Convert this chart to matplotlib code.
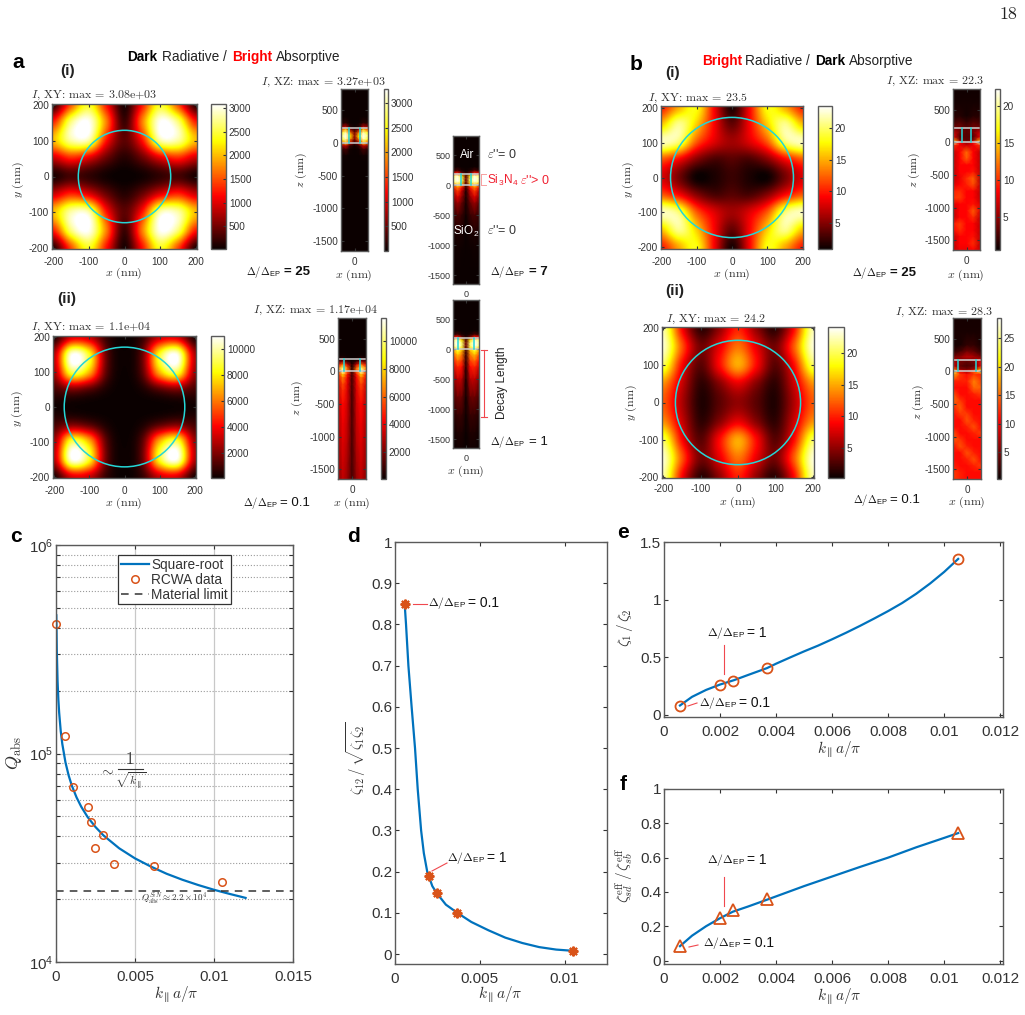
import numpy as np
import matplotlib
matplotlib.use("Agg")
import matplotlib.pyplot as plt
from matplotlib.lines import Line2D
from matplotlib.patches import Circle

W, H = 1025, 1015

plt.rcParams['font.family'] = ['Liberation Sans', 'DejaVu Sans']
plt.rcParams['mathtext.fontset'] = 'cm'
plt.rcParams['axes.unicode_minus'] = False

AXIS_GREY = '#5a5a5a'
TEXT_GREY = '#333333'
CYAN = '#25d6d6'
SLAB = '#cfcfcf'
BLUE = '#0072BD'
ORANGE = '#D95319'
LEADER = '#f0484e'

# In-plane intensity, one quadrant: rows y = 200..0, columns x = -200..0 (nm)
xy_a1 = [[150, 1500, 2400, 1200, 100],
         [1300, 2700, 3050, 1700, 250],
         [2000, 2800, 2800, 1200, 400],
         [900, 1300, 1000, 450, 150],
         [100, 300, 200, 60, 10]]
xy_a2 = [[400, 3500, 3200, 700, 50],
         [2900, 10800, 8500, 1500, 100],
         [2600, 9000, 7000, 1300, 80],
         [1000, 1900, 1300, 300, 30],
         [150, 100, 60, 20, 5]]
xy_b1 = [[10, 15, 18, 9, 1.5],
         [16, 21, 16, 9, 4],
         [22, 20, 12, 8, 6],
         [12, 9, 5, 3, 3.5],
         [8, 4.5, 1, 1.5, 2.5]]
xy_b2 = [[22, 9, 1.5, 5, 10],
         [23, 12, 4, 8, 13],
         [20, 9, 3, 9, 15],
         [14, 7, 1.5, 4.5, 8],
         [12, 6, 1, 3, 5]]

# Cross-section intensity, half of the cell: columns x = 0, 65, 130, 200 (nm)
z_a = [820, 400, 300, 240, 200, 150, 100, 50, 0, -50, -100, -200, -300, -500,
       -800, -1100, -1400, -1650]
xz_a1 = [[0, 0, 0, 0], [0, 0, 5, 5], [5, 20, 150, 100], [30, 150, 900, 600],
         [150, 700, 2200, 1500], [500, 1800, 3000, 2500], [700, 2400, 3270, 2800],
         [500, 1800, 3000, 2500], [200, 900, 2200, 1600], [50, 200, 900, 600],
         [10, 50, 300, 150], [0, 5, 50, 20], [0, 0, 5, 0], [0, 0, 0, 0],
         [0, 0, 0, 0], [0, 0, 0, 0], [0, 0, 0, 0], [0, 0, 0, 0]]
xz_a2 = [[0, 0, 0, 0], [0, 0, 0, 0], [0, 0, 30, 10], [10, 50, 200, 80],
         [30, 150, 700, 250], [100, 800, 2500, 1300], [300, 3500, 6500, 4000],
         [500, 6000, 10000, 6500], [900, 6000, 11000, 6000], [1000, 4500, 8000, 4500],
         [1000, 4000, 6500, 4000], [1000, 3800, 5500, 3400], [1000, 3600, 5000, 3200],
         [1000, 3400, 4400, 3000], [1100, 3200, 4000, 2800], [1100, 3000, 3700, 2600],
         [1100, 2700, 3400, 2400], [1100, 2500, 3200, 2200]]
xz_delta7 = [[0, 0, 0, 0], [0, 0, 0, 0], [0, 0, 1, 0], [1, 3, 10, 5], [3, 15, 40, 30],
             [12, 70, 95, 85], [15, 85, 100, 90], [15, 80, 95, 85], [8, 55, 70, 55],
             [5, 38, 55, 35], [3, 28, 45, 25], [2, 20, 32, 18], [2, 14, 22, 12],
             [1, 7, 10, 6], [0, 2, 3, 2], [0, .5, 1, .5], [0, 0, .3, 0], [0, 0, 0, 0]]
xz_delta1 = [[0, 0, 0, 0], [0, 0, 0, 0], [0, 0, 1, 0], [1, 3, 10, 5], [3, 15, 40, 30],
             [10, 70, 95, 85], [15, 85, 100, 90], [15, 85, 100, 85], [10, 70, 85, 65],
             [8, 60, 75, 55], [7, 55, 65, 48], [6, 45, 52, 38], [5, 38, 42, 30],
             [3, 26, 28, 18], [1.5, 14, 15, 9], [1, 7, 7, 4], [.3, 3, 3, 1], [.2, 1.5, 1.5, .5]]

# Full-width cross sections: columns x = -200, -100, 0, 100, 200 (nm)
z_b = [820, 600, 400, 300, 220, 150, 80, 30, 0, -50, -150, -250, -350, -450, -550,
       -650, -750, -850, -950, -1050, -1150, -1250, -1350, -1450, -1550, -1650]
xz_b1 = [[.8, .8, .8, .8, .8], [1, 1, 1, 1, 1], [1.5, 1.5, 1, 1.5, 1.5], [2.5, 3, 2, 3, 2.5],
         [4, 4, 3, 4, 4], [7, 4, 3, 4, 7], [8, 3, 3, 3, 8], [14, 5, 3, 5, 14],
         [20, 8, 5, 8, 20], [10, 8, 7, 8, 10], [6.5, 8.5, 12, 8.5, 6.5], [6.5, 8.5, 11.5, 8.5, 6.5],
         [6.5, 8.5, 8.5, 8.5, 6.5], [6.5, 8.5, 8.5, 9, 6.5], [6.5, 8, 10, 11.5, 6.5], [7.5, 8.5, 9.5, 11, 6.5],
         [9.5, 10, 8.5, 8.5, 6.5], [10, 10.5, 8.5, 8.5, 6.5], [7.5, 8.5, 8.5, 9, 7.5], [6.5, 8.5, 8.5, 11.5, 7.5],
         [6.5, 8.5, 8.5, 10, 6.5], [9, 10.5, 8.5, 8.5, 6.5], [8.5, 10, 8.5, 8.5, 6.5], [6.5, 8.5, 8.5, 9, 6.5],
         [6.5, 8.5, 8.5, 10, 6.5], [6.5, 8, 8, 8.5, 6.5]]
xz_b2 = [[.8, .8, .8, .8, .8], [1, 1, 1, 1, 1], [1, 1, 2, 2, 1], [2, 3, 5, 4, 2],
         [5, 6, 8, 7, 5], [8, 5, 4, 5, 10], [9, 4, 3, 4, 10], [16, 6, 5, 7, 18],
         [24, 10, 7, 14, 22], [18, 13, 11, 13, 12], [12, 12, 12, 16, 13], [11, 11, 11, 15, 14.5],
         [14, 11, 11, 12, 13], [15, 13, 11, 11, 11], [12, 14.5, 11, 11, 11], [11, 13, 13, 11, 11],
         [11, 11, 14, 12, 11], [11, 11, 12, 14, 11], [14, 11, 11, 12, 13], [14, 13, 11, 11, 11],
         [11, 14, 12, 11, 11], [11, 11, 14, 12, 11], [11, 11, 12, 14, 11], [12, 11, 11, 12, 13],
         [13, 12, 11, 11, 11], [13, 12, 11, 11, 11]]

# Panel c
k_rcwa = [0.00002, 0.00059, 0.00107, 0.0020, 0.0022, 0.00246, 0.0030, 0.00368, 0.00619, 0.01048]
q_rcwa = [4.16e5, 1.216e5, 6.92e4, 5.55e4, 4.67e4, 3.51e4, 4.06e4, 2.94e4, 2.89e4, 2.43e4]
k_root = [0.00002, 0.00005, 0.0001, 0.00015, 0.0002, 0.0003, 0.0004, 0.0006, 0.0008, 0.001,
          0.0013, 0.0016, 0.002, 0.0025, 0.003, 0.004, 0.005, 0.006, 0.007, 0.008, 0.009,
          0.01, 0.011, 0.012]
q_root = [4.6e5, 3.14e5, 2.22e5, 1.81e5, 1.57e5, 1.28e5, 1.11e5, 9.06e4, 7.85e4, 7.02e4,
          6.16e4, 5.55e4, 4.96e4, 4.44e4, 4.05e4, 3.51e4, 3.14e4, 2.87e4, 2.65e4, 2.48e4,
          2.34e4, 2.22e4, 2.12e4, 2.03e4]
q_limit = 2.2e4

# Panels d, e, f share the five marked points
k_marks = [0.00057, 0.00201, 0.00246, 0.00368, 0.01049]
zeta12_marks = [0.85, 0.19, 0.148, 0.10, 0.008]
ratio_marks = [0.079, 0.262, 0.297, 0.405, 1.353]
eff_marks = [0.084, 0.247, 0.292, 0.36, 0.743]

k_d = [0.00057, 0.00065, 0.00079, 0.00098, 0.00118, 0.00134, 0.00154, 0.0017, 0.0019, 0.0022,
       0.00246, 0.003, 0.00368, 0.0045, 0.0055, 0.0065, 0.0075, 0.0085, 0.0095, 0.0105]
zeta12_line = [0.85, 0.8, 0.7, 0.6, 0.5, 0.4, 0.3, 0.245, 0.2, 0.165, 0.148, 0.12, 0.10, 0.078,
               0.058, 0.04, 0.027, 0.017, 0.011, 0.008]
k_e = [0.00057, 0.001, 0.0015, 0.002, 0.0025, 0.003, 0.00368, 0.004, 0.0045, 0.005, 0.0055, 0.006,
       0.0065, 0.007, 0.0075, 0.008, 0.0085, 0.009, 0.0095, 0.01, 0.0105]
ratio_line = [0.08, 0.155, 0.215, 0.262, 0.30, 0.345, 0.405, 0.443, 0.497, 0.55, 0.60, 0.655,
              0.712, 0.772, 0.835, 0.90, 0.97, 1.05, 1.14, 1.24, 1.353]
k_f = [0.00057, 0.001, 0.0015, 0.002, 0.00246, 0.003, 0.00368, 0.005, 0.006, 0.007, 0.008,
       0.009, 0.01, 0.0105]
eff_line = [0.084, 0.145, 0.2, 0.247, 0.285, 0.315, 0.355, 0.434, 0.49, 0.546, 0.60, 0.66,
            0.715, 0.743]

fig = plt.figure(figsize=(W / 100, H / 100), dpi=100)


def px_axes(l, t, r, b):
    return fig.add_axes([l / W, 1 - b / H, (r - l) / W, (b - t) / H])


def put(x, y, s, ha='left', size=8, color=TEXT_GREY, **kw):
    fig.text(x / W, 1 - y / H, s, ha=ha, va='center', fontsize=size, color=color, **kw)


def seg(x0, y0, x1, y1, color=LEADER, lw=0.8):
    fig.add_artist(Line2D([x0 / W, x1 / W], [1 - y0 / H, 1 - y1 / H], color=color, lw=lw,
                          transform=fig.transFigure))


def style(ax, size=7.2, length=2):
    ax.tick_params(which='both', direction='in', top=True, right=True, length=length,
                   width=0.8, color='#333333', labelsize=size, labelcolor=TEXT_GREY, pad=2)
    for s in ax.spines.values():
        s.set_color(AXIS_GREY)
        s.set_linewidth(1.0)


def add_cbar(im, box, ticks, size=7.2):
    cax = px_axes(*box)
    cb = fig.colorbar(im, cax=cax)
    cb.set_ticks(ticks)
    cb.ax.tick_params(direction='in', length=2, width=0.8, color='#333333', labelsize=size,
                      labelcolor=TEXT_GREY, pad=2)
    cb.outline.set_edgecolor(AXIS_GREY)
    cb.outline.set_linewidth(1.0)


def xy_map(box, quad, vmin, vmax, radius, cbox, ticks, xlim=204, ylim=204, xpad=5.5):
    ax = px_axes(*box)
    rows = [list(r) + list(r[-2::-1]) for r in quad]
    field = np.array(rows + rows[-2::-1], dtype=float)
    im = ax.imshow(field, cmap='hot', vmin=vmin, vmax=vmax, interpolation='catrom',
                   extent=[-225, 225, -225, 225], origin='upper', aspect='auto')
    ax.set_xlim(-xlim, xlim)
    ax.set_ylim(-ylim, ylim)
    ax.add_patch(Circle((0, 0), radius, fill=False, ec=CYAN, lw=1.1))
    ax.set_xticks([-200, -100, 0, 100, 200])
    ax.set_yticks([-200, -100, 0, 100, 200])
    style(ax)
    ax.tick_params(axis='x', pad=xpad)
    add_cbar(im, cbox, ticks)


def xz_map(box, z, field, vmin, vmax, holes, top, cbox=None, ticks=None, size=7.2):
    ax = px_axes(*box)
    field = np.array(field, dtype=float)
    if field.shape[1] == 4:
        field = np.hstack([field[:, :0:-1], field])
        x = [-200, -130, -65, 0, 65, 130, 200]
    else:
        x = [-200, -100, 0, 100, 200]
    im = ax.pcolormesh(x, z, field, shading='gouraud', cmap='hot', vmin=vmin, vmax=vmax)
    ax.set_xlim(-200, 200)
    ax.set_ylim(-1650, 820)
    for zz in (0, top):
        ax.plot([-190, 190], [zz, zz], color=SLAB, lw=1.1)
    for xx in (-holes, holes):
        ax.plot([xx, xx], [0, top], color=CYAN, lw=1.1)
    ax.set_xticks([0])
    ax.set_yticks([-1500, -1000, -500, 0, 500])
    style(ax, size=size)
    ax.tick_params(axis='x', pad=4.5)
    if cbox is not None:
        add_cbar(im, cbox, ticks)


# Panel a, upper row
xy_map((52, 104, 197, 249), xy_a1, 22, 3080, 130, (211, 104, 226, 249),
       [500, 1000, 1500, 2000, 2500, 3000])
xz_map((341, 89, 368, 251), z_a, xz_a1, 0, 3280, 75, 230, (384, 89, 388, 251),
       [500, 1000, 1500, 2000, 2500, 3000])
xz_map((453, 136, 479, 284), z_a, xz_delta7, 0, 100, 75, 180, size=6.5)

# Panel a, lower row
xy_map((53, 336, 196, 478), xy_a2, 50, 11000, 172, (211, 336, 224, 478),
       [2000, 4000, 6000, 8000, 10000])
xz_map((338, 318, 366, 479), z_a, xz_a2, 25, 11700, 117, 190, (381, 318, 386, 479),
       [2000, 4000, 6000, 8000, 10000])
xz_map((453, 300, 479, 448), z_a, xz_delta1, 0, 100, 120, 180, size=6.5)

# Panel b
xy_map((661, 106, 803, 249), xy_b1, 0.9, 23.5, 174, (818, 106, 832, 249), [5, 10, 15, 20],
       xlim=201, ylim=207)
xz_map((953, 89, 980, 250), z_b, xz_b1, 0.6, 22.3, 62, 220, (995, 89, 1000, 250), [5, 10, 15, 20])
xy_map((662, 327, 814, 478), xy_b2, 0.15, 24.2, 168, (828, 327, 844, 478), [5, 10, 15, 20], xpad=4)
xz_map((953, 318, 981, 479), z_b, xz_b2, 0.35, 28.5, 130, 180, (997, 318, 1001, 479),
       [5, 10, 15, 20, 25])

# Panel c
ax_c = px_axes(56, 545, 293, 962)
ax_c.set_yscale('log')
ax_c.grid(True, which='major', color='#c8c8c8', lw=0.9)
ax_c.grid(True, which='minor', axis='y', color='#9a9a9a', lw=0.8, ls=':')
ax_c.plot(k_root, q_root, color=BLUE, lw=1.6, label='Square-root')
ax_c.plot(k_rcwa, q_rcwa, 'o', mfc='none', mec=ORANGE, mew=1.1, ms=5.4, label='RCWA data', clip_on=False)
ax_c.axhline(q_limit, color='#333333', ls='--', lw=1.1, dashes=(5, 4), label='Material limit')
ax_c.set_xlim(0, 0.015)
ax_c.set_ylim(1e4, 1e6)
ax_c.set_xticks([0, 0.005, 0.01, 0.015], ['0', '0.005', '0.01', '0.015'])
style(ax_c, size=10.8, length=3)
ax_c.tick_params(axis='x', pad=6)
leg = ax_c.legend(loc='upper left', bbox_to_anchor=((118 - 56) / 237, 1 - 10 / 417), fontsize=9.8,
                  fancybox=False, framealpha=1, edgecolor='#333333', borderpad=0.2, labelspacing=0.07,
                  handlelength=2.05, handletextpad=0.2, borderaxespad=0)
leg.get_frame().set_linewidth(0.9)
for t in leg.get_texts():
    t.set_color(TEXT_GREY)

# Panel d
ax_d = px_axes(395, 542, 607, 964)
ax_d.plot(k_d, zeta12_line, color=BLUE, lw=1.6)
ax_d.plot(k_marks, zeta12_marks, ls='none', marker=(8, 2, 0), color=ORANGE, mew=1.5, ms=7)
ax_d.set_xlim(0, 0.0125)
ax_d.set_ylim(-0.024, 1)
ax_d.set_xticks([0, 0.005, 0.01], ['0', '0.005', '0.01'])
ax_d.set_yticks(np.arange(11) / 10, ['0', '0.1', '0.2', '0.3', '0.4', '0.5', '0.6', '0.7', '0.8', '0.9', '1'])
style(ax_d, size=11, length=3)
ax_d.tick_params(axis='x', pad=6)

# Panels e and f
ax_e = px_axes(664, 542, 1003, 717)
ax_e.plot(k_e, ratio_line, color=BLUE, lw=1.6)
ax_e.plot(k_marks, ratio_marks, 'o', mfc='none', mec=ORANGE, mew=1.3, ms=7.2)
ax_e.set_ylim(-0.02, 1.5)
ax_e.set_yticks([0, 0.5, 1, 1.5], ['0', '0.5', '1', '1.5'])

ax_f = px_axes(664, 789, 1003, 964)
ax_f.plot(k_f, eff_line, color=BLUE, lw=1.6)
ax_f.plot(k_marks, eff_marks, '^', mfc='none', mec=ORANGE, mew=1.3, ms=8.6)
ax_f.set_ylim(-0.02, 1)
ax_f.set_yticks([0, 0.2, 0.4, 0.6, 0.8, 1], ['0', '0.2', '0.4', '0.6', '0.8', '1'])

for ax in (ax_e, ax_f):
    ax.set_xlim(0, 0.0121)
    ax.set_xticks([0, 0.002, 0.004, 0.006, 0.008, 0.01, 0.012],
                  ['0', '0.002', '0.004', '0.006', '0.008', '0.01', '0.012'])
    style(ax, size=11, length=3)
    ax.tick_params(axis='x', pad=6)

# Headings
put(1008, 14, '18', ha='center', size=13, color='#222222', family='cmr10')
for x, y, s in [(12, 62, 'a'), (630, 64, 'b'), (10, 536, 'c'), (347, 536, 'd'), (617, 533, 'e'), (620, 785, 'f')]:
    put(x, y, s, size=15, color='black', fontweight='bold')
for x, y, s in [(60, 71, '(i)'), (57, 299, '(ii)'), (665, 73, '(i)'), (665, 291, '(ii)')]:
    put(x, y, s, size=11, color='#222222', fontweight='bold')

put(127, 57, 'Dark', size=9.8, color='black', fontweight='bold')
put(162, 57, 'Radiative /', size=9.8, color='#222222')
put(232, 57, 'Bright', size=9.8, color='red', fontweight='bold')
put(276, 57, 'Absorptive', size=9.8, color='#222222')
put(702, 61, 'Bright', size=9.8, color='red', fontweight='bold')
put(745, 61, 'Radiative /', size=9.8, color='#222222')
put(815, 61, 'Dark', size=9.8, color='black', fontweight='bold')
put(849, 61, 'Absorptive', size=9.8, color='#222222')

# Map captions
captions = [(31, 95, 'XY', '3.08e+03'), (261, 82, 'XZ', '3.27e+03'),
            (31, 327, 'XY', '1.1e+04'), (253, 310, 'XZ', '1.17e+04'),
            (648, 98, 'XY', '23.5'), (886, 81, 'XZ', '22.3'),
            (666, 319, 'XY', '24.2'), (895, 312, 'XZ', '28.3')]
for x, y, plane, peak in captions:
    put(x, y, rf'$I$, {plane}: max = {peak}', size=8.6, family='cmr10')

for x, y in [(124, 273), (354, 275), (124, 503), (352, 503), (466, 471), (732, 274), (966, 275), (738, 502), (967, 502)]:
    put(x, y, r'$x$ (nm)', ha='center', size=8.6, family='cmr10')
for x, y in [(18, 180), (17, 409), (628, 180), (631, 403)]:
    put(x, y, r'$y$ (nm)', ha='center', size=8.6, rotation=90, family='cmr10')
for x, y in [(301, 170), (297, 398), (914, 170), (918, 402)]:
    put(x, y, r'$z$ (nm)', ha='center', size=8.6, rotation=90, family='cmr10')

DELTA = r'$\Delta/\Delta_{\mathdefault{EP}}$'
for x, y, val, bold, gap in [(246, 272, '= 25', True, 38), (490, 272, '= 7', True, 39), (243, 503, '= 0.1', False, 37),
                             (490, 442, '= 1', False, 39), (852, 273, '= 25', True, 38), (853, 500, '= 0.1', False, 37)]:
    put(x, y, DELTA, size=7.6, color='#111111')
    put(x + gap, y, val, size=9.5, color='#111111', fontweight='bold' if bold else 'normal')

# Layer notes beside the narrow cross sections
put(467, 155, 'Air', ha='center', size=8.5, color='white')
put(466, 231, r'SiO$_{\mathdefault{2}}$', ha='center', size=8.5, color='white')
put(487, 155, r"$\varepsilon$''= 0", size=9)
put(487, 231, r"$\varepsilon$''= 0", size=9)
put(487, 180, r"Si$_{\mathdefault{3}}$N$_{\mathdefault{4}}$", size=8.6, color='#f02030')
put(520, 180, r"$\varepsilon$''> 0", size=9, color='#f02030')
seg(481, 174, 481, 185, color='#f7a0a0', lw=0.7)
seg(481, 174, 486, 174, color='#f7a0a0', lw=0.7)
seg(481, 185, 486, 185, color='#f7a0a0', lw=0.7)
seg(484, 350, 484, 417)
seg(481, 350, 487, 350)
seg(481, 417, 487, 417)
put(502, 383, 'Decay Length', ha='center', size=8.5, rotation=90, color='#222222')

# Axis labels of the lower panels
k_label = r'$k_{\parallel}a/\pi$'
put(176, 995, k_label, ha='center', size=11)
put(500, 995, k_label, ha='center', size=11)
put(839, 750, k_label, ha='center', size=11)
put(839, 997, k_label, ha='center', size=11)
put(14, 753, r'$Q_{\mathrm{abs}}$', ha='center', size=13, rotation=90)
put(356, 758, r'$\zeta_{12}\,/\,\sqrt{\zeta_1\zeta_2}$', ha='center', size=10.5, rotation=90)
put(625, 628, r'$\zeta_1\,/\,\zeta_2$', ha='center', size=11, rotation=90)
put(625, 875, r'$\zeta_{sd}^{\mathrm{eff}}\,/\,\zeta_{sb}^{\mathrm{eff}}$', ha='center', size=11, rotation=90)

# Hand-set fraction beside the curve in panel c
put(107, 770, r'$\sim$', ha='center', size=11)
put(130, 759, '1', ha='center', size=12, family='cmr10')
seg(118, 769, 143, 769, color='#333333', lw=0.8)
put(131, 781, r'$\sqrt{k_{\parallel}}$', ha='center', size=8.5)
put(174, 898, r'$Q_{\mathrm{abs}}^{SiN}\approx 2.2\times 10^4$', ha='center', size=6.5)

# Leaders to the marked points
for x, y, val in [(428, 603, '= 0.1'), (447, 858, '= 1'), (707, 633, '= 1'),
                  (699, 703, '= 0.1'), (707, 860, '= 1'), (703, 943, '= 0.1')]:
    put(x, y, DELTA, size=8.4, color='#111111')
    put(x + 40, y, val, size=10, color='#111111')
seg(413, 604, 427, 604)
seg(432, 871, 447, 863)
seg(724, 645, 724, 674)
seg(688, 706, 697, 703)
seg(724, 877, 724, 906)
seg(689, 947, 698, 945)

fig.savefig('out.png', dpi=100)
